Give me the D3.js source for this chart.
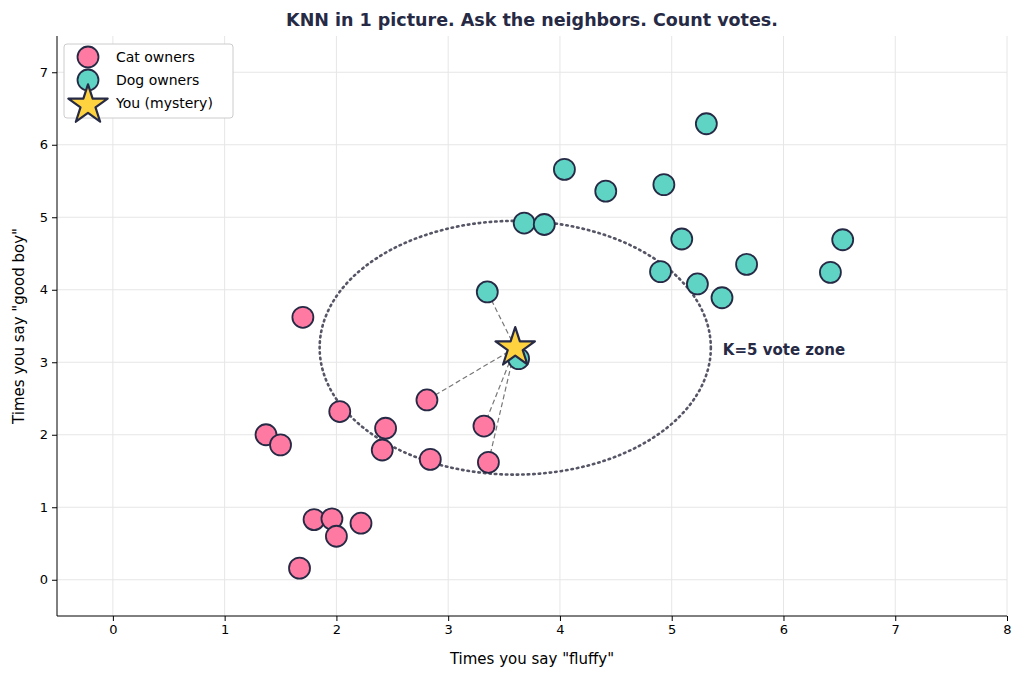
<!DOCTYPE html>
<html>
<head>
<meta charset="UTF-8">
<script src="https://d3js.org/d3.v7.min.js"></script>
<style>
  body { margin: 0; background: #fff; }
  svg { font-family: "DejaVu Sans", sans-serif; }
</style>
</head>
<body>
<div id="chart"></div>
<script>
const catX = [1.70, 1.37, 1.50, 2.03, 2.44, 2.41, 2.81, 2.84, 3.32, 3.36, 1.80, 1.96, 2.00, 2.22, 1.67];
const catY = [3.62, 2.00, 1.86, 2.32, 2.09, 1.79, 2.48, 1.66, 2.12, 1.62, 0.83, 0.84, 0.60, 0.78, 0.16];
const dogX = [3.35, 3.63, 3.68, 3.86, 4.04, 4.41, 4.93, 5.31, 5.09, 4.90, 5.23, 5.45, 5.67, 6.42, 6.53];
const dogY = [3.97, 3.05, 4.92, 4.90, 5.66, 5.36, 5.45, 6.29, 4.70, 4.25, 4.08, 3.89, 4.35, 4.24, 4.69];
const you = [3.60, 3.20];
const neighbors = [[3.35, 3.97], [3.63, 3.05], [2.81, 2.48], [3.32, 2.12], [3.36, 1.62]];
const zoneRadius = 1.75;
const xTicks = [0, 1, 2, 3, 4, 5, 6, 7, 8];
const yTicks = [0, 1, 2, 3, 4, 5, 6, 7];

const W = 1024, H = 679;
const m = { left: 57, right: 1007, top: 36, bottom: 616 };
const navy = "#262a45", pink = "#ff7aa2", teal = "#5fd3c4";

const svg = d3.select("#chart").append("svg").attr("width", W).attr("height", H);
const x = d3.scaleLinear().domain([-0.5, 8]).range([m.left, m.right]);
const y = d3.scaleLinear().domain([-0.5, 7.5]).range([m.bottom, m.top]);

// grid
svg.append("g").selectAll("line").data(xTicks).join("line")
  .attr("x1", d => x(d)).attr("x2", d => x(d)).attr("y1", m.top).attr("y2", m.bottom)
  .attr("stroke", "#e6e6e6");
svg.append("g").selectAll("line").data(yTicks).join("line")
  .attr("y1", d => y(d)).attr("y2", d => y(d)).attr("x1", m.left).attr("x2", m.right)
  .attr("stroke", "#e6e6e6");

// axes
const xa = svg.append("g").attr("transform", `translate(0,${m.bottom})`)
  .call(d3.axisBottom(x).tickValues(xTicks).tickSize(5).tickPadding(4));
const ya = svg.append("g").attr("transform", `translate(${m.left},0)`)
  .call(d3.axisLeft(y).tickValues(yTicks).tickSize(5).tickPadding(4));
[xa, ya].forEach(a => {
  a.selectAll("text").attr("font-size", 13).attr("fill", "#000").attr("font-family", "DejaVu Sans");
  a.selectAll("line, path").attr("stroke", "#000");
});
xa.select(".domain").attr("d", `M${m.left},0H${m.right}`);
ya.select(".domain").attr("d", `M0,${m.bottom}V${m.top}`);

svg.append("text").attr("x", (m.left + m.right) / 2).attr("y", 664)
  .attr("text-anchor", "middle").attr("font-size", 15).text('Times you say "fluffy"');
svg.append("text").attr("transform", `translate(24,${(m.top + m.bottom) / 2}) rotate(-90)`)
  .attr("text-anchor", "middle").attr("font-size", 15).text('Times you say "good boy"');

svg.append("text").attr("x", 532).attr("y", 26).attr("text-anchor", "middle")
  .attr("font-size", 17.5).attr("font-weight", "bold").attr("fill", navy)
  .text("KNN in 1 picture. Ask the neighbors. Count votes.");

// zone
svg.append("ellipse").attr("cx", x(you[0])).attr("cy", y(you[1]))
  .attr("rx", x(zoneRadius) - x(0)).attr("ry", y(0) - y(zoneRadius))
  .attr("fill", "none").attr("stroke", "#555566").attr("stroke-width", 2.6)
  .attr("stroke-dasharray", "1.5,4").attr("stroke-linecap", "round");
svg.append("text").attr("x", x(you[0] + zoneRadius) + 12).attr("y", y(you[1]) + 7)
  .attr("font-size", 15).attr("font-weight", "bold").attr("fill", navy).text("K=5 vote zone");

// neighbor lines
svg.append("g").selectAll("line").data(neighbors).join("line")
  .attr("x1", x(you[0])).attr("y1", y(you[1]))
  .attr("x2", d => x(d[0])).attr("y2", d => y(d[1]))
  .attr("stroke", "#777").attr("stroke-width", 1.2).attr("stroke-dasharray", "5,3");

// points
const cats = catX.map((v, i) => [v, catY[i]]);
const dogs = dogX.map((v, i) => [v, dogY[i]]);
function dots(data, fill) {
  svg.append("g").selectAll("circle").data(data).join("circle")
    .attr("cx", d => x(d[0])).attr("cy", d => y(d[1])).attr("r", 10.5)
    .attr("fill", fill).attr("stroke", navy).attr("stroke-width", 1.8);
}
dots(cats, pink);
dots(dogs, teal);

const star = d3.symbol().type(d3.symbolStar);
svg.append("path").attr("d", star.size(480)())
  .attr("transform", `translate(${x(you[0])},${y(you[1])})`)
  .attr("fill", "#ffd23f").attr("stroke", navy).attr("stroke-width", 2.2).attr("stroke-linejoin", "round");

// legend
const lg = svg.append("g");
lg.append("rect").attr("x", 64).attr("y", 44).attr("width", 169).attr("height", 74).attr("rx", 3)
  .attr("fill", "#fff").attr("stroke", "#ccc");
const items = [["Cat owners", pink, "c"], ["Dog owners", teal, "c"], ["You (mystery)", "#ffd23f", "s"]];
items.forEach((it, i) => {
  const cy = 57 + i * 23;
  if (it[2] === "c") {
    lg.append("circle").attr("cx", 88).attr("cy", cy).attr("r", 10.5)
      .attr("fill", it[1]).attr("stroke", navy).attr("stroke-width", 1.8);
  } else {
    lg.append("path").attr("d", star.size(480)()).attr("transform", `translate(88,${cy + 2})`)
      .attr("fill", it[1]).attr("stroke", navy).attr("stroke-width", 2.2).attr("stroke-linejoin", "round");
  }
  lg.append("text").attr("x", 116).attr("y", cy + 5).attr("font-size", 14).text(it[0]);
});
</script>
</body>
</html>
